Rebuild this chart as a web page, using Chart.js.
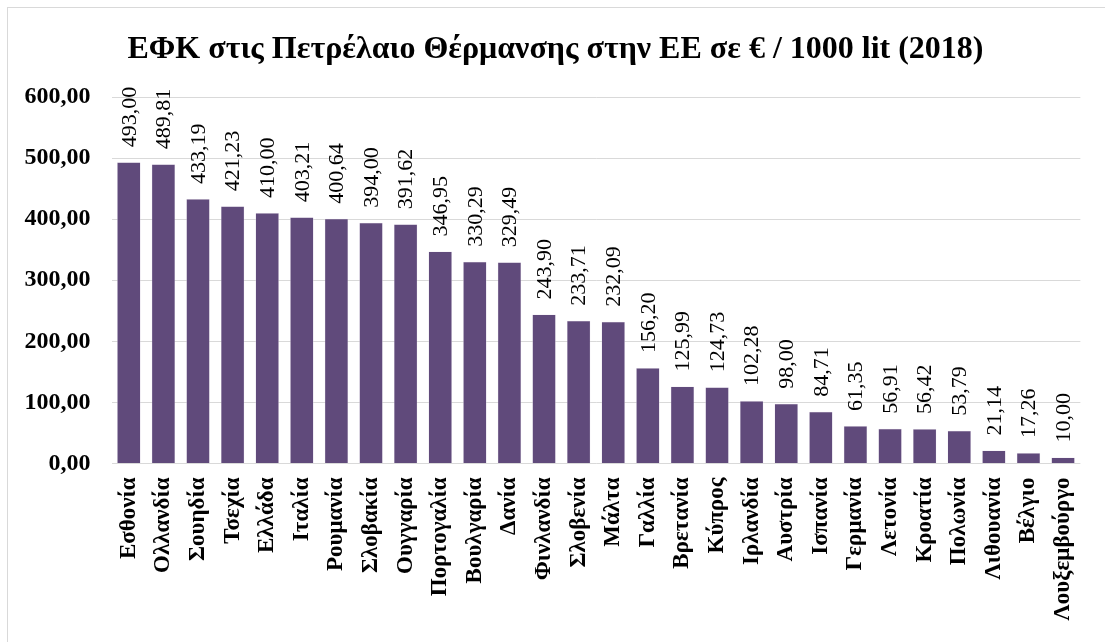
<!DOCTYPE html>
<html>
<head>
<meta charset="utf-8">
<script src="https://cdn.jsdelivr.net/npm/chart.js@4"></script>
<style>
  html, body { margin: 0; padding: 0; background: #ffffff; }
  #wrap { position: relative; width: 1105px; height: 642px; }
</style>
</head>
<body>
<div id="wrap"><canvas id="c" width="1105" height="642"></canvas></div>
<script>
const categories = ["Εσθονία","Ολλανδία","Σουηδία","Τσεχία","Ελλάδα","Ιταλία","Ρουμανία","Σλοβακία","Ουγγαρία","Πορτογαλία","Βουλγαρία","Δανία","Φινλανδία","Σλοβενία","Μάλτα","Γαλλία","Βρετανία","Κύπρος","Ιρλανδία","Αυστρία","Ισπανία","Γερμανία","Λετονία","Κροατία","Πολωνία","Λιθουανία","Βέλγιο","Λουξεμβούργο"];
const values = [493.00,489.81,433.19,421.23,410.00,403.21,400.64,394.00,391.62,346.95,330.29,329.49,243.90,233.71,232.09,156.20,125.99,124.73,102.28,98.00,84.71,61.35,56.91,56.42,53.79,21.14,17.26,10.00];
const yTicks = [0,100,200,300,400,500,600];
const titleText = "ΕΦΚ στις Πετρέλαιο Θέρμανσης στην ΕΕ σε € / 1000 lit (2018)";

const fmt = v => v.toFixed(2).replace('.', ',');
const serif = "'Liberation Serif', 'Times New Roman', serif";

const frame = {
  id: 'frame',
  beforeDraw(chart) {
    const ctx = chart.ctx;
    ctx.save();
    ctx.fillStyle = '#ffffff';
    ctx.fillRect(0, 0, chart.width, chart.height);
    ctx.strokeStyle = '#d9d9d9';
    ctx.lineWidth = 1;
    ctx.strokeRect(7.5, 7.5, chart.width + 20, chart.height + 20);
    ctx.restore();
  }
};

const valueLabels = {
  id: 'valueLabels',
  afterDatasetsDraw(chart) {
    const ctx = chart.ctx;
    const meta = chart.getDatasetMeta(0);
    ctx.save();
    ctx.fillStyle = '#000000';
    ctx.font = "22px " + serif;
    ctx.textAlign = 'left';
    ctx.textBaseline = 'middle';
    meta.data.forEach((bar, i) => {
      ctx.save();
      ctx.translate(bar.x, bar.y - 15);
      ctx.rotate(-Math.PI / 2);
      ctx.fillText(fmt(values[i]), 0, 1);
      ctx.restore();
    });
    ctx.restore();
  }
};

new Chart(document.getElementById('c'), {
  type: 'bar',
  data: {
    labels: categories,
    datasets: [{
      data: values,
      backgroundColor: '#604a7b',
      borderColor: '#e6e0ec',
      borderWidth: 0.5,
      barPercentage: 0.68,
      categoryPercentage: 1
    }]
  },
  options: {
    responsive: false,
    animation: false,
    devicePixelRatio: 1,
    layout: { padding: { left: 24, right: 18, top: 0, bottom: 0 } },
    plugins: {
      legend: { display: false },
      tooltip: { enabled: false },
      title: {
        display: true,
        text: titleText,
        color: '#000000',
        font: { family: serif, size: 32, weight: 'bold', lineHeight: 1.2 },
        padding: { top: 31, bottom: 27.6 }
      }
    },
    scales: {
      x: {
        grid: { display: false, drawTicks: false },
        border: { display: false },
        ticks: {
          color: '#000000',
          font: { family: serif, size: 23, weight: 'bold' },
          minRotation: 90,
          maxRotation: 90,
          autoSkip: false,
          padding: 14
        },
        afterFit(scale) { scale.height = 178.5; }
      },
      y: {
        min: 0,
        max: 600,
        afterBuildTicks(scale) { scale.ticks = yTicks.map(v => ({ value: v })); },
        grid: { color: '#d9d9d9', lineWidth: 1, drawTicks: false },
        border: { display: false },
        ticks: {
          color: '#000000',
          font: { family: serif, size: 24, weight: 'bold' },
          padding: 21,
          callback: v => fmt(v)
        },
        afterFit(scale) { scale.width = 87.5; }
      }
    }
  },
  plugins: [frame, valueLabels]
});
</script>
</body>
</html>
